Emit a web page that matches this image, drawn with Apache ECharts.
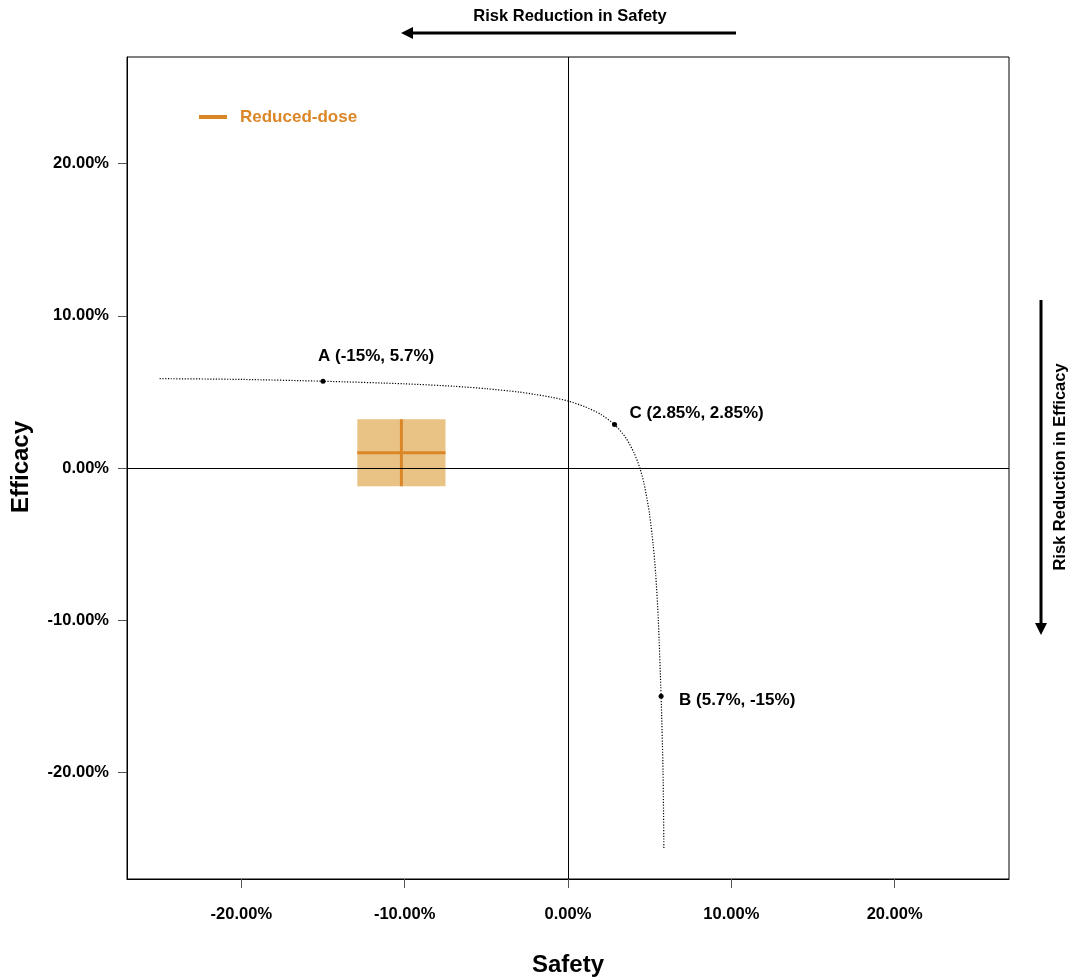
<!DOCTYPE html>
<html>
<head>
<meta charset="utf-8">
<script src="https://cdn.jsdelivr.net/npm/echarts@6/dist/echarts.min.js"></script>
<style>
  html, body { margin: 0; padding: 0; background: #fff; }
  #chart { width: 1072px; height: 980px; }
</style>
</head>
<body>
<div id="chart"></div>
<script>
// Iso-benefit curve: safety (%) vs efficacy (%)
const curveSafety   = [-25, -20, -15, -10, -7, -5, -3, -2, -1, 0, 1, 2, 2.85, 3.53, 4.04, 4.4, 4.65, 4.83, 4.99, 5.21, 5.37, 5.53, 5.7, 5.82, 5.87];
const curveEfficacy = [5.87, 5.82, 5.7, 5.53, 5.37, 5.21, 4.99, 4.83, 4.65, 4.4, 4.04, 3.53, 2.85, 2, 1, 0, -1, -2, -3, -5, -7, -10, -15, -20, -25];

// Reference points on the curve
const pointNames    = ['A', 'B', 'C'];
const pointSafety   = [-15, 5.7, 2.85];
const pointEfficacy = [5.7, -15, 2.85];

// Reduced-dose estimate with its intervals
const doseName       = 'Reduced-dose';
const doseSafety     = -10.2;
const doseSafetyCI   = [-12.9, -7.5];
const doseEfficacy   = 1.0;
const doseEfficacyCI = [-1.2, 3.2];

// Axis ticks
const xTicks = [-20, -10, 0, 10, 20];
const yTicks = [-20, -10, 0, 10, 20];
const axisMin = -27, axisMax = 27;

const ORANGE = '#DB8727';
const ORANGE_FILL = '#E9C285';
const FONT = '"Liberation Sans", Arial, Helvetica, sans-serif';

const labelOffsets = {
  A: [-7.5, -25],
  B: [15.5, 3.5],
  C: [12.5, -11]
};

const chart = echarts.init(document.getElementById('chart'), null, { renderer: 'canvas' });

const fmt = v => v.toFixed(2) + '%';

const axisCommon = {
  type: 'value',
  min: axisMin,
  max: axisMax,
  splitLine: { show: false },
  axisLine: { show: true, onZero: false, lineStyle: { color: '#000', width: 1 } },
  axisTick: { show: true, length: 9, customValues: null, lineStyle: { color: '#555', width: 1 } },
  axisLabel: { fontFamily: FONT, fontWeight: 'bold', fontSize: 16.5, color: '#000', formatter: fmt }
};

const option = {
  animation: false,
  backgroundColor: '#fff',
  grid: {
    left: 127, right: 63, top: 57, bottom: 101,
    show: true, borderColor: '#000', borderWidth: 1, backgroundColor: 'transparent'
  },
  xAxis: Object.assign({}, axisCommon, {
    axisTick: Object.assign({}, axisCommon.axisTick, { customValues: xTicks }),
    axisLabel: Object.assign({}, axisCommon.axisLabel, { customValues: xTicks, margin: 27 })
  }),
  yAxis: Object.assign({}, axisCommon, {
    axisTick: Object.assign({}, axisCommon.axisTick, { customValues: yTicks }),
    axisLabel: Object.assign({}, axisCommon.axisLabel, { customValues: yTicks, margin: 18 })
  }),
  legend: {
    show: true,
    left: 199,
    top: 108.5,
    padding: 0,
    orient: 'horizontal',
    itemWidth: 28,
    itemHeight: 4,
    itemGap: 10,
    icon: 'rect',
    data: [doseName],
    textStyle: { fontFamily: FONT, fontWeight: 'bold', fontSize: 17, color: ORANGE, padding: [0, 0, 0, 8] }
  },
  series: [
    {
      name: 'curve',
      type: 'line',
      data: curveSafety.map((x, i) => [x, curveEfficacy[i]]),
      smooth: 0.25,
      showSymbol: false,
      silent: true,
      lineStyle: { color: '#000', width: 1.2, type: [1.2, 1.6] },
      markLine: {
        silent: true,
        symbol: 'none',
        label: { show: false },
        lineStyle: { color: '#000', width: 1, type: 'solid' },
        data: [{ xAxis: 0 }, { yAxis: 0 }]
      },
      z: 3
    },
    {
      name: doseName,
      type: 'custom',
      itemStyle: { color: ORANGE },
      data: [[doseSafetyCI[0], doseSafetyCI[1], doseEfficacyCI[0], doseEfficacyCI[1], doseSafety, doseEfficacy]],
      encode: { x: [0, 1, 4], y: [2, 3, 5] },
      renderItem: function (params, api) {
        const p1 = api.coord([api.value(0), api.value(3)]);
        const p2 = api.coord([api.value(1), api.value(2)]);
        const c = api.coord([api.value(4), api.value(5)]);
        return {
          type: 'group',
          children: [
            { type: 'rect', shape: { x: p1[0], y: p1[1], width: p2[0] - p1[0], height: p2[1] - p1[1] },
              style: { fill: ORANGE_FILL } },
            { type: 'line', shape: { x1: p1[0], y1: c[1], x2: p2[0], y2: c[1] },
              style: { stroke: ORANGE, lineWidth: 3 } },
            { type: 'line', shape: { x1: c[0], y1: p1[1], x2: c[0], y2: p2[1] },
              style: { stroke: ORANGE, lineWidth: 3 } }
          ]
        };
      },
      z: 2
    },
    {
      name: 'points',
      type: 'scatter',
      symbolSize: 5,
      itemStyle: { color: '#000', opacity: 1 },
      data: pointNames.map((n, i) => ({
        name: n,
        value: [pointSafety[i], pointEfficacy[i]],
        label: {
          show: true,
          position: 'right',
          distance: 0,
          offset: labelOffsets[n],
          formatter: n + ' (' + pointSafety[i] + '%, ' + pointEfficacy[i] + '%)',
          fontFamily: FONT,
          fontWeight: 'bold',
          fontSize: 17,
          color: '#000'
        }
      })),
      z: 5
    }
  ],
  graphic: [
    // top direction note
    { type: 'text', x: 570, y: 16, style: { text: 'Risk Reduction in Safety', font: 'bold 16.5px ' + FONT,
      fill: '#000', textAlign: 'center', textVerticalAlign: 'middle' } },
    { type: 'line', shape: { x1: 736, y1: 33, x2: 412, y2: 33 }, style: { stroke: '#000', lineWidth: 3 } },
    { type: 'polygon', shape: { points: [[401, 33], [413, 27], [413, 39]] }, style: { fill: '#000' } },
    // right direction note
    { type: 'text', x: 1060, y: 467, rotation: Math.PI / 2,
      style: { text: 'Risk Reduction in Efficacy', font: 'bold 16.5px ' + FONT,
      fill: '#000', textAlign: 'center', textVerticalAlign: 'middle' } },
    { type: 'line', shape: { x1: 1041, y1: 300, x2: 1041, y2: 623 }, style: { stroke: '#000', lineWidth: 3 } },
    { type: 'polygon', shape: { points: [[1041, 635], [1035, 623], [1047, 623]] }, style: { fill: '#000' } },
    // axis titles
    { type: 'text', x: 568, y: 965, style: { text: 'Safety', font: 'bold 24px ' + FONT,
      fill: '#000', textAlign: 'center', textVerticalAlign: 'middle' } },
    { type: 'text', x: 21, y: 467, rotation: Math.PI / 2,
      style: { text: 'Efficacy', font: 'bold 24px ' + FONT,
      fill: '#000', textAlign: 'center', textVerticalAlign: 'middle' } }
  ]
};

chart.setOption(option);
</script>
</body>
</html>
